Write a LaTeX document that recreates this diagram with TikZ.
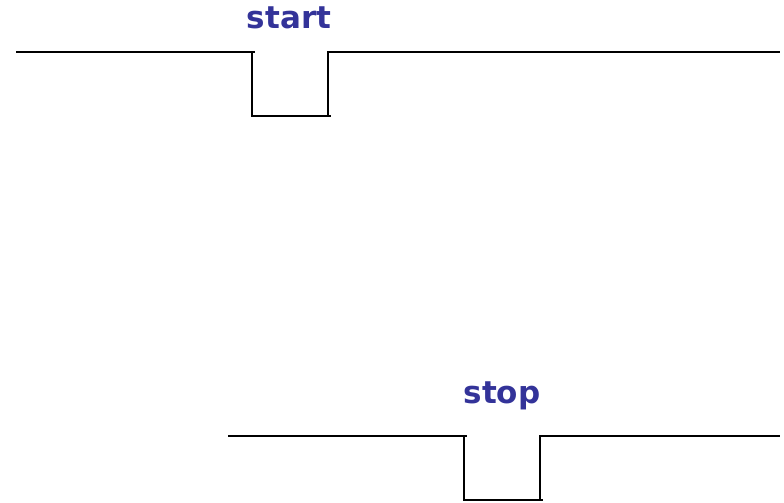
\documentclass[tikz,border=0pt]{standalone}
\usepackage{fontspec}
\setmainfont{DejaVu Sans}
\definecolor{lbl}{HTML}{333399}
\begin{document}
\begin{tikzpicture}[x=1pt,y=-1pt,
  wave/.style={line width=1.5pt,black},
  lab/.style={font=\fontsize{31}{34}\selectfont\bfseries,text=lbl,inner sep=0pt,anchor=base}]
\useasboundingbox (0,0) rectangle (784,503);
% top waveform
\coordinate (a1) at (16,52);
\coordinate (a2) at (255,52);
\coordinate (a3) at (252,52);
\coordinate (a4) at (252,116);
\coordinate (a5) at (331,116);
\coordinate (a6) at (328,116);
\coordinate (a7) at (328,52);
\coordinate (a8) at (780,52);
\draw[wave] (a1) -- (a2);
\draw[wave] (a3) -- (a4) -- (a5);
\draw[wave] (a6) -- (a7) -- (a8);
\node[lab] (start) at (289,28.5) {start};
% bottom waveform
\coordinate (b1) at (228,436);
\coordinate (b2) at (467,436);
\coordinate (b3) at (464,436);
\coordinate (b4) at (464,500);
\coordinate (b5) at (543,500);
\coordinate (b6) at (540,500);
\coordinate (b7) at (540,436);
\coordinate (b8) at (780,436);
\draw[wave] (b1) -- (b2);
\draw[wave] (b3) -- (b4) -- (b5);
\draw[wave] (b6) -- (b7) -- (b8);
\node[lab] (stop) at (502,403.5) {stop};
\end{tikzpicture}
\end{document}
